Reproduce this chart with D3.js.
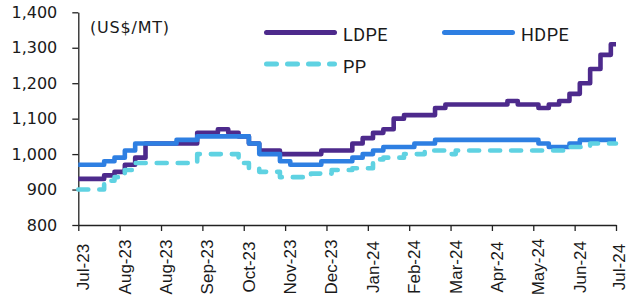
<!DOCTYPE html>
<html>
<head>
<meta charset="utf-8">
<script src="https://cdn.jsdelivr.net/npm/d3@7"></script>
<style>
  body { margin: 0; background: #fff; }
  svg { display: block; }
</style>
</head>
<body>
<script>
// weekly prices, Jul-23 to Jul-24 (US$/MT)
var ldpe = [930,930,930,940,950,970,990,1030,1030,1030,1030,1030,1060,1060,1070,1060,1050,1030,1010,1010,
  1000,1000,1000,1000,1010,1010,1010,1030,1045,1060,1070,1100,1110,1110,1110,1130,1140,1140,1140,1140,
  1140,1140,1150,1140,1140,1130,1140,1150,1170,1200,1240,1280,1310];
var hdpe = [970,970,970,980,990,1010,1030,1030,1030,1030,1040,1040,1050,1050,1050,1050,1050,1030,1000,1000,
  980,970,970,970,980,980,980,990,1000,1010,1020,1020,1020,1030,1030,1040,1040,1040,1040,1040,
  1040,1040,1040,1040,1040,1030,1020,1020,1030,1040,1040,1040,1040];
var pp = [900,900,900,925,935,955,975,975,975,975,975,975,1000,1000,1000,1000,975,960,950,950,
  935,935,935,945,945,955,955,960,960,985,990,990,1000,1000,1010,1010,1000,1010,1010,1010,
  1010,1010,1010,1010,1010,1010,1010,1010,1020,1020,1030,1030,1030];

var tickWeeks = [0,4,8,12,16,20,24,28,32,36,40,44,48,52];
var tickLabels = ["Jul-23","Aug-23","Aug-23","Sep-23","Oct-23","Nov-23","Dec-23","Jan-24","Feb-24","Mar-24","Apr-24","May-24","Jun-24","Jul-24"];
var yTicks = [800,900,1000,1100,1200,1300,1400];

var seriesNames = ["LDPE","HDPE","PP"];
var seriesColors = ["#4d2a8c","#2e7fe2","#5fd2e2"];

var width = 628, height = 302;

var svg = d3.select("body").append("svg").attr("width", width).attr("height", height);

var x = d3.scaleLinear().domain([0, ldpe.length - 1]).range([78.3, 616]);
var y = d3.scaleLinear().domain([800, 1400]).range([225, 12.3]);

// y axis
var yAxis = svg.append("g")
  .attr("transform", "translate(78.3,0)")
  .call(d3.axisLeft(y).tickValues(yTicks).tickFormat(d3.format(",")).tickSize(6).tickSizeOuter(0).tickPadding(15));
yAxis.selectAll("text")
  .attr("font-family", "DejaVu Sans")
  .attr("font-size", "16px")
  .attr("fill", "#1a1a1a");

// x axis
var xAxis = svg.append("g")
  .attr("transform", "translate(0,225)")
  .call(d3.axisBottom(x).tickValues(tickWeeks).tickFormat(function(d, i){ return tickLabels[i]; }).tickSize(6).tickSizeOuter(0));
xAxis.selectAll("text")
  .attr("font-family", "Liberation Sans, Arial")
  .attr("font-size", "17px")
  .attr("fill", "#1a1a1a")
  .attr("transform", "rotate(-90)")
  .attr("x", -42)
  // last label sits at the right edge, pull it in a bit so it isn't clipped
  .attr("y", function(d, i){ return i == tickWeeks.length - 1 ? 8 : 10.5; })
  .attr("dy", null)
  .style("text-anchor", "middle");

svg.selectAll(".domain, .tick line").attr("stroke", "#222").attr("stroke-width", 1.3);

// unit label
svg.append("text")
  .attr("x", 90)
  .attr("y", 32.5)
  .attr("font-family", "DejaVu Sans")
  .attr("font-size", "16px")
  .attr("letter-spacing", "0.8px")
  .attr("fill", "#1a1a1a")
  .text("(US$/MT)");

// lines
var line = d3.line()
  .x(function(d, i){ return x(i); })
  .y(function(d){ return y(d); })
  .curve(d3.curveStep);

var allSeries = [ldpe, hdpe, pp];
for (var s = 0; s < allSeries.length; s++) {
  svg.append("path")
    .datum(allSeries[s])
    .attr("d", line)
    .attr("fill", "none")
    .attr("stroke", seriesColors[s])
    .attr("stroke-width", 4.6)
    .attr("stroke-linejoin", "round")
    .attr("stroke-linecap", s == 2 ? "round" : "butt")
    .attr("stroke-dasharray", s == 2 ? "10,11" : null);
}

// legend
var legendX = [266.5, 444.5, 266.5];
var legendY = [32.5, 32.5, 64];
for (var k = 0; k < seriesNames.length; k++) {
  svg.append("line")
    .attr("x1", legendX[k])
    .attr("x2", legendX[k] + 68)
    .attr("y1", legendY[k])
    .attr("y2", legendY[k])
    .attr("stroke", seriesColors[k])
    .attr("stroke-width", 5)
    .attr("stroke-linecap", "round")
    .attr("stroke-dasharray", k == 2 ? "10,11" : null);
  svg.append("text")
    .attr("x", legendX[k] + 76.5)
    .attr("y", legendY[k] + 8.5)
    .attr("font-family", "Roboto")
    .attr("font-size", "18px")
    .attr("letter-spacing", "0.5px")
    .attr("fill", "#1a1a1a")
    .text(seriesNames[k]);
}
</script>
</body>
</html>
